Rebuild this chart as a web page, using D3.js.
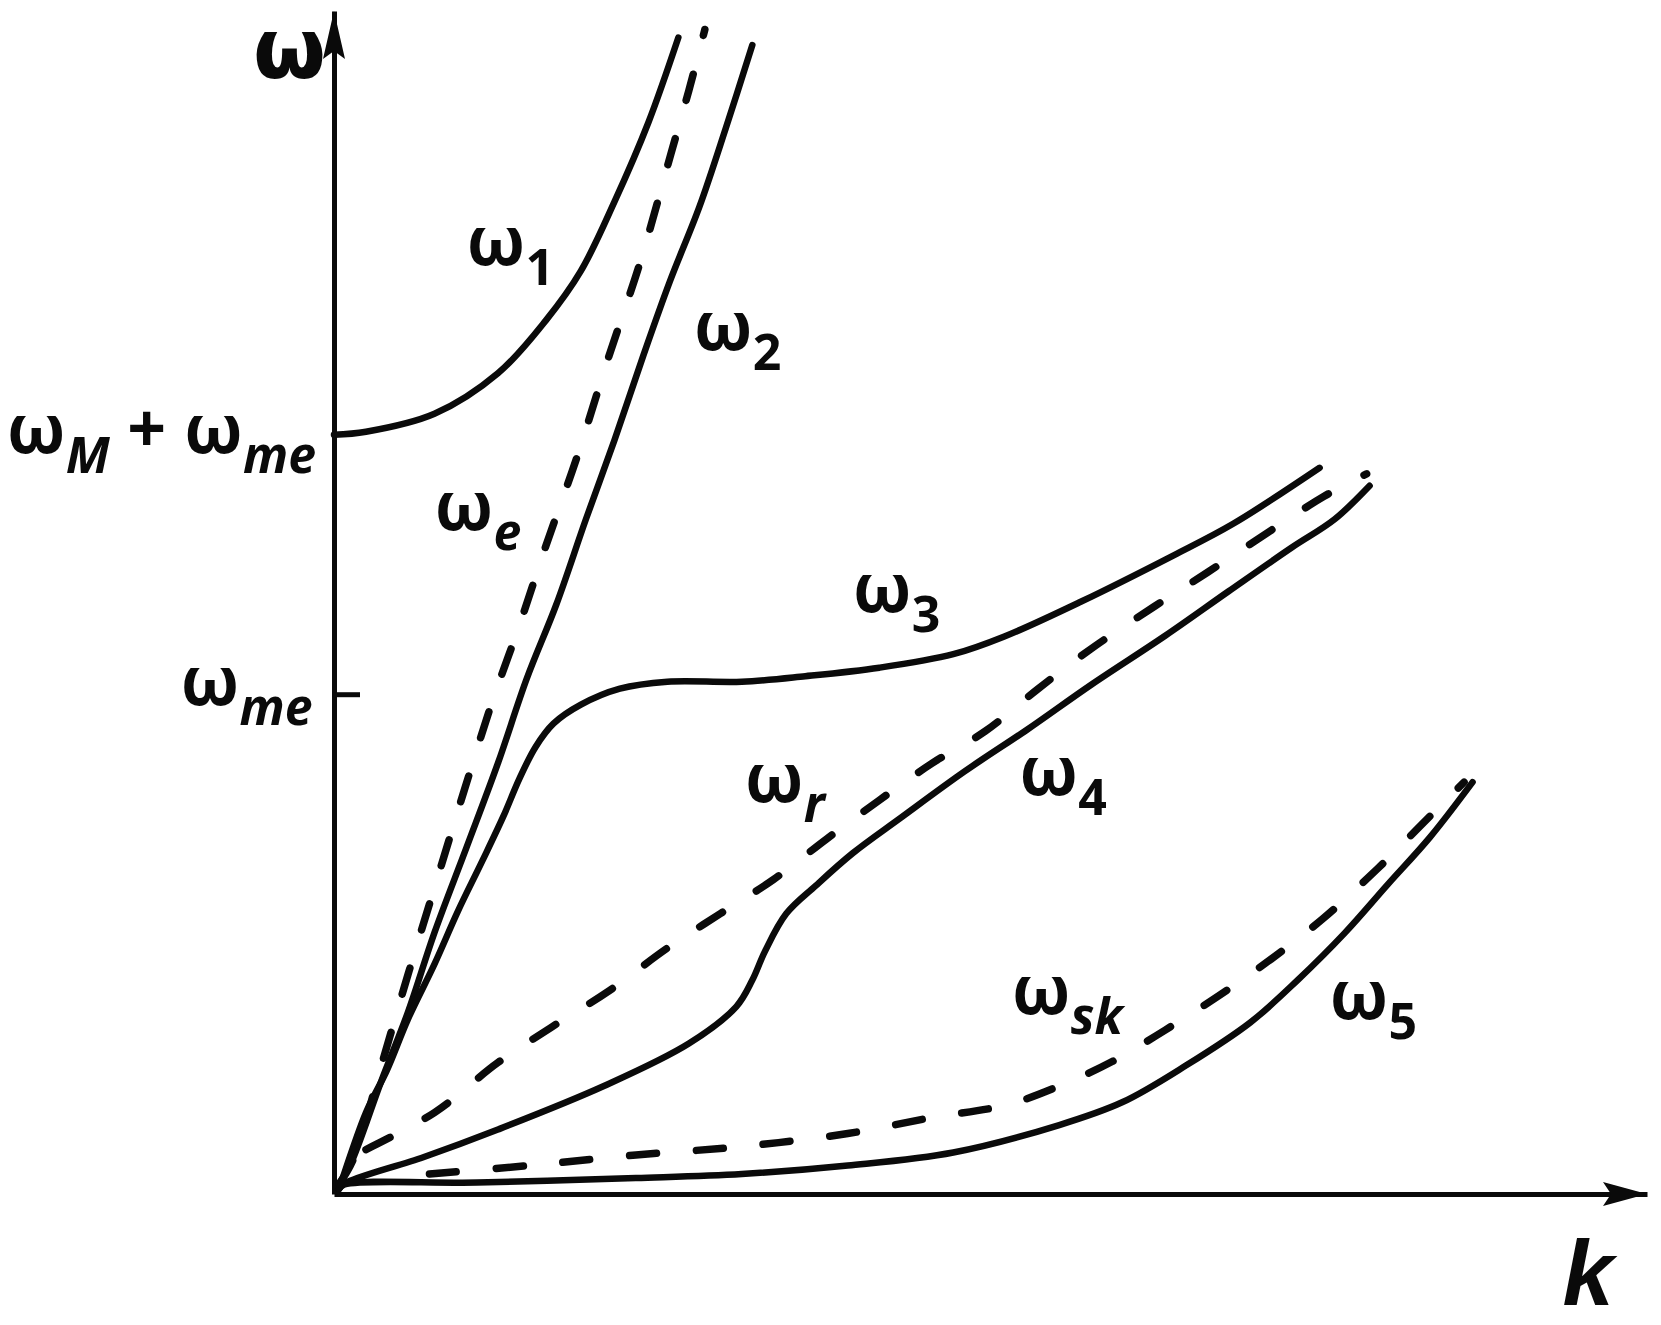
<!DOCTYPE html>
<html>
<head>
<meta charset="utf-8">
<script src="https://cdn.jsdelivr.net/npm/d3@7"></script>
<style>
body { margin: 0; background: #fff; }
</style>
</head>
<body>
<div id="chart"></div>
<script>
// wave number k and frequency omega, both in units of omega_me
var omega1 = [[0, 1.519], [0.064, 1.525], [0.201, 1.561], [0.328, 1.642], [0.424, 1.748], [0.494, 1.847], [0.561, 1.985], [0.629, 2.144], [0.689, 2.314]];

var omegaE = [[0.01, 0.02], [0.038, 0.068], [0.095, 0.258], [0.148, 0.439], [0.206, 0.629], [0.261, 0.809], [0.318, 0.989], [0.371, 1.138], [0.424, 1.297], [0.487, 1.477], [0.547, 1.667], [0.614, 1.869], [0.674, 2.081], [0.710, 2.208], [0.742, 2.330]];

var omega2 = [[0.01, 0.02], [0.032, 0.057], [0.095, 0.227], [0.148, 0.364], [0.201, 0.523], [0.265, 0.693], [0.328, 0.862], [0.386, 1.032], [0.445, 1.180], [0.504, 1.350], [0.561, 1.508], [0.619, 1.678], [0.672, 1.826], [0.731, 1.975], [0.784, 2.133], [0.837, 2.299]];

var omega3 = [[0.01, 0.01], [0.015, 0.025], [0.064, 0.163], [0.106, 0.248], [0.148, 0.350], [0.201, 0.460], [0.248, 0.566], [0.297, 0.667], [0.339, 0.756], [0.371, 0.831], [0.403, 0.894], [0.439, 0.941], [0.494, 0.979], [0.572, 1.011], [0.667, 1.025], [0.816, 1.025], [0.943, 1.036], [1.091, 1.053], [1.239, 1.080], [1.340, 1.115], [1.494, 1.185], [1.680, 1.278], [1.799, 1.341], [1.972, 1.453]];

var omegaR = [[0.064, 0.089], [0.201, 0.163], [0.328, 0.263], [0.434, 0.333], [0.551, 0.407], [0.667, 0.492], [0.773, 0.561], [0.879, 0.629], [0.985, 0.710], [1.091, 0.788], [1.197, 0.862], [1.303, 0.926], [1.409, 1.011], [1.515, 1.091], [1.642, 1.176], [1.748, 1.244], [1.875, 1.328], [1.981, 1.396], [2.066, 1.441]];

var omega4 = [[0.01, 0.01], [0.021, 0.021], [0.180, 0.074], [0.328, 0.129], [0.540, 0.216], [0.710, 0.301], [0.805, 0.375], [0.837, 0.428], [0.862, 0.485], [0.905, 0.561], [0.964, 0.617], [1.038, 0.682], [1.133, 0.752], [1.261, 0.845], [1.388, 0.930], [1.515, 1.019], [1.663, 1.117], [1.790, 1.206], [1.917, 1.294], [2.002, 1.350], [2.072, 1.417]];

var omegaSk = [[0.191, 0.040], [0.392, 0.057], [0.604, 0.078], [0.816, 0.095], [1.028, 0.121], [1.197, 0.153], [1.345, 0.178], [1.451, 0.216], [1.557, 0.265], [1.663, 0.328], [1.769, 0.396], [1.875, 0.470], [1.981, 0.553], [2.087, 0.650], [2.172, 0.735], [2.261, 0.824]];

var omega5 = [[0.01, 0.01], [0.021, 0.019], [0.286, 0.023], [0.604, 0.032], [0.816, 0.040], [1.028, 0.057], [1.239, 0.083], [1.451, 0.138], [1.578, 0.184], [1.706, 0.258], [1.833, 0.343], [1.928, 0.428], [2.023, 0.523], [2.108, 0.619], [2.193, 0.714], [2.278, 0.824]];

var solidCurves = [omega1, omega2, omega3, omega4, omega5];
var dashedCurves = [omegaE, omegaR, omegaSk];

var kMax = 2.627;
var wMax = 2.367;
var wTicks = [1, 1.519];

// label text pieces: 'b' = main, 's' = italic subscript, 'd' = digit subscript
var labelParts = [
	[['ω', 'b']],
	[['ω', 'b'], ['1', 'd']],
	[['ω', 'b'], ['2', 'd']],
	[['ω', 'b'], ['e', 's']],
	[['ω', 'b'], ['3', 'd']],
	[['ω', 'b'], ['r', 's']],
	[['ω', 'b'], ['4', 'd']],
	[['ω', 'b'], ['sk', 's']],
	[['ω', 'b'], ['5', 'd']],
	[['ω', 'b'], ['M', 's'], [' + ω', 'b'], ['me', 's']],
	[['ω', 'b'], ['me', 's']]
];
var labelK = [-0.162, 0.265, 0.720, 0.201, 1.038, 0.822, 1.371, 1.356, 1.992, -0.036, -0.043];
var labelW = [2.232, 1.858, 1.689, 1.328, 1.165, 0.784, 0.799, 0.360, 0.350, 1.483, 0.979];
var axisName = ['k', 2.458, -0.222];

var width = 1661, height = 1325;

var svg = d3.select('#chart').append('svg')
	.attr('width', width)
	.attr('height', height)
	.style('background', '#fff');

var x = d3.scaleLinear().domain([0, kMax]).range([334, 1647]);
var y = d3.scaleLinear().domain([0, wMax]).range([1194, 11]);

var xAxis = d3.axisBottom(x).tickValues([]).tickSizeOuter(0);
var yAxis = d3.axisLeft(y).tickValues(wTicks.slice(0, 1)).tickSizeInner(-26).tickSizeOuter(0).tickFormat('');

var xAxisG = svg.append('g')
	.attr('transform', 'translate(0,' + y(0) + ')')
	.call(xAxis);

var yAxisG = svg.append('g')
	.attr('transform', 'translate(' + x(0) + ',0)')
	.call(yAxis);

svg.selectAll('.domain')
	.attr('stroke', '#0a0a0a')
	.attr('stroke-width', 5);

yAxisG.selectAll('.tick line')
	.attr('stroke', '#0a0a0a')
	.attr('stroke-width', 5);

// arrow heads
var xEnd = x(kMax), yEnd = y(wMax);
svg.append('path')
	.attr('d', 'M' + xEnd + ',' + y(0) + 'L' + (xEnd - 44) + ',' + (y(0) - 12) + 'L' + (xEnd - 36) + ',' + y(0) + 'L' + (xEnd - 44) + ',' + (y(0) + 12) + 'Z')
	.attr('fill', '#0a0a0a');
svg.append('path')
	.attr('d', 'M' + x(0) + ',' + yEnd + 'L' + (x(0) - 11) + ',' + (yEnd + 48) + 'L' + x(0) + ',' + (yEnd + 40) + 'L' + (x(0) + 11) + ',' + (yEnd + 48) + 'Z')
	.attr('fill', '#0a0a0a');

var line = d3.line()
	.x(function(d) { return x(d[0]); })
	.y(function(d) { return y(d[1]); })
	.curve(d3.curveCatmullRom.alpha(0.5));

var curvesG = svg.append('g');

curvesG.selectAll('path.solid')
	.data(solidCurves)
	.enter()
	.append('path')
	.attr('class', 'solid')
	.attr('d', line)
	.attr('fill', 'none')
	.attr('stroke', '#0a0a0a')
	.attr('stroke-width', 6.5)
	.attr('stroke-linecap', 'round')
	.attr('stroke-linejoin', 'round');

curvesG.selectAll('path.dashed')
	.data(dashedCurves)
	.enter()
	.append('path')
	.attr('class', 'dashed')
	.attr('d', line)
	.attr('fill', 'none')
	.attr('stroke', '#0a0a0a')
	.attr('stroke-width', 7.5)
	.attr('stroke-dasharray', '27,40')
	.attr('stroke-linecap', 'round');

// labels
var fontMain = 68, fontSub = 50, fontBig = 84;

labelParts.forEach(function(parts, i) {
	var big = i === 0;
	var t = svg.append('text')
		.attr('x', x(labelK[i]))
		.attr('y', y(labelW[i]))
		.attr('text-anchor', labelK[i] < 0 && !big ? 'end' : 'start')
		.attr('font-family', big ? '"DejaVu Sans", sans-serif' : '"Noto Sans", "DejaVu Sans", sans-serif')
		.attr('font-weight', 'bold')
		.attr('fill', '#0a0a0a')
		.attr('font-size', big ? fontBig : fontMain);

	var shift = 0;
	parts.forEach(function(p) {
		var s = t.append('tspan').text(p[0]);
		var want = p[1] === 'b' ? 0 : 20;
		s.attr('dy', want - shift);
		shift = want;
		if (p[1] !== 'b') {
			s.attr('font-size', fontSub);
			if (p[1] === 's') s.attr('font-style', 'italic');
		} else {
			s.attr('font-size', big ? fontBig : fontMain);
		}
	});
});

svg.append('text')
	.attr('x', x(axisName[1]))
	.attr('y', y(axisName[2]))
	.attr('font-family', '"Liberation Sans Narrow", "Liberation Sans", sans-serif')
	.attr('font-weight', 'bold')
	.attr('font-style', 'italic')
	.attr('font-size', 92)
	.attr('fill', '#0a0a0a')
	.text(axisName[0]);
</script>
</body>
</html>
